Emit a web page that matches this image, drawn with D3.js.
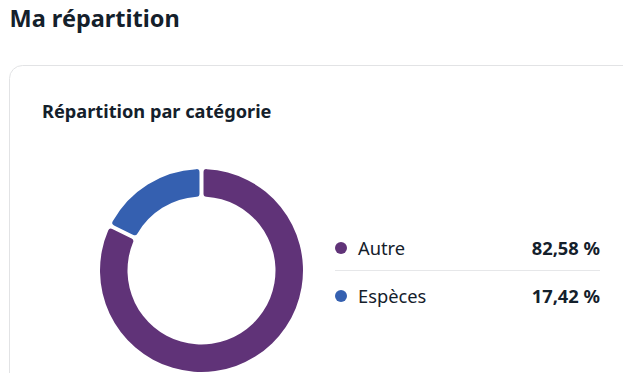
<!DOCTYPE html>
<html>
<head>
<meta charset="utf-8">
<script src="https://cdn.jsdelivr.net/npm/d3@7"></script>
<style>
  html, body { margin: 0; padding: 0; background: #fff; overflow: hidden; }
  body { width: 623px; height: 373px; font-family: "Noto Sans", "Open Sans", sans-serif; }
</style>
</head>
<body>
<div id="chart"></div>
<script>
var categories = ["Autre", "Espèces"];
var shares = [82.58, 17.42];
var shareLabels = ["82,58 %", "17,42 %"];
var colors = ["#603378", "#3560b0"];

var width = 623, height = 373;
var textDark = "#14202b";

var svg = d3.select("#chart").append("svg")
  .attr("width", width)
  .attr("height", height);

// page title
svg.append("text")
  .attr("x", 9.5).attr("y", 27)
  .attr("font-size", 23.5).attr("font-weight", 700)
  .attr("fill", textDark)
  .text("Ma répartition");

// card
svg.append("rect")
  .attr("x", 9.5).attr("y", 65.5)
  .attr("width", 640).attr("height", 340)
  .attr("rx", 13)
  .attr("fill", "#fff")
  .attr("stroke", "#e2e3e5");

svg.append("text")
  .attr("x", 42).attr("y", 118)
  .attr("font-size", 18.2).attr("font-weight", 700)
  .attr("fill", textDark)
  .text("Répartition par catégorie");

// donut
var cx = 201.5, cy = 270.5;
var outerR = 101.5, innerR = 74;

var pie = d3.pie().sort(null).value(function (d) { return d; }).padAngle(0.032);
var arc = d3.arc().innerRadius(innerR).outerRadius(outerR).cornerRadius(3);

svg.append("g")
  .attr("transform", "translate(" + cx + "," + cy + ")")
  .selectAll("path")
  .data(pie(shares))
  .enter().append("path")
  .attr("d", arc)
  .attr("fill", function (d, i) { return colors[i]; });

// legend
var legendY = d3.scalePoint().domain(categories).range([248, 296]);

var legend = svg.append("g");

legend.append("line")
  .attr("x1", 335).attr("x2", 600)
  .attr("y1", 270.5).attr("y2", 270.5)
  .attr("stroke", "#e6e7e9");

var rows = legend.selectAll("g.row")
  .data(categories)
  .enter().append("g")
  .attr("class", "row")
  .attr("transform", function (d) { return "translate(0," + legendY(d) + ")"; });

rows.append("circle")
  .attr("cx", 341).attr("cy", 0).attr("r", 6)
  .attr("fill", function (d, i) { return colors[i]; });

rows.append("text")
  .attr("x", 358).attr("y", 6.5)
  .attr("font-size", 18.3)
  .attr("fill", textDark)
  .text(function (d) { return d; });

rows.append("text")
  .attr("x", 600).attr("y", 6.5)
  .attr("text-anchor", "end")
  .attr("font-size", 18.3).attr("font-weight", 700)
  .attr("fill", textDark)
  .text(function (d, i) { return shareLabels[i]; });
</script>
</body>
</html>
